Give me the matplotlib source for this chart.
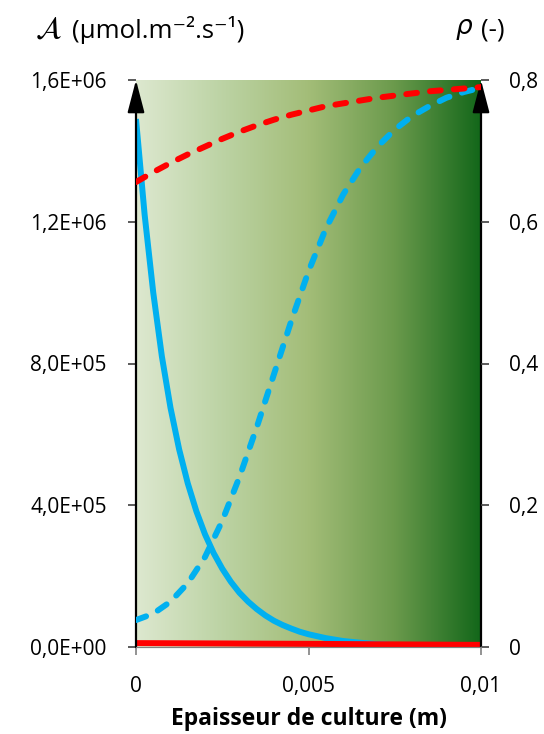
import numpy as np
import matplotlib
matplotlib.use('Agg')
from matplotlib import pyplot as plt
from matplotlib.colors import LinearSegmentedColormap

plt.rcParams['font.family'] = ['Open Sans', 'DejaVu Sans']
plt.rcParams['mathtext.fontset'] = 'dejavusans'

# culture depth (m) and absorbed light (left axis)
depth = [0, 0.00025, 0.0005, 0.00075, 0.001, 0.00125, 0.0015, 0.00175, 0.002, 0.00225,
         0.0025, 0.00275, 0.003, 0.00325, 0.0035, 0.00375, 0.004, 0.00425, 0.0045, 0.00475,
         0.005, 0.0055, 0.006, 0.0065, 0.007, 0.0075, 0.008, 0.0085, 0.009, 0.0095, 0.01]
absorbed = [1.49, 1.22, 1.00, 0.82, 0.675, 0.558, 0.462, 0.383, 0.318, 0.265,
            0.221, 0.184, 0.153, 0.128, 0.107, 0.089, 0.074, 0.062, 0.052, 0.043,
            0.036, 0.025, 0.017, 0.012, 0.008, 0.0055, 0.0038, 0.0026, 0.0018, 0.0012, 0.0008]
absorbed_low = [0.011, 0.0109, 0.0108, 0.0107, 0.0106, 0.0105, 0.0104, 0.0103, 0.0102, 0.0101,
                0.0100, 0.0099, 0.0097, 0.0096, 0.0095, 0.0094, 0.0093, 0.0092, 0.0091, 0.0090,
                0.0089, 0.0086, 0.0083, 0.0080, 0.0077, 0.0074, 0.0071, 0.0068, 0.0065, 0.0062, 0.006]

# yield (right axis)
depth2 = [0, 0.0005, 0.001, 0.0015, 0.002, 0.0025, 0.003, 0.0035, 0.004, 0.0045, 0.005,
          0.0055, 0.006, 0.0065, 0.007, 0.0075, 0.008, 0.0085, 0.009, 0.0095, 0.01]
rho_blue = [0.038, 0.047, 0.064, 0.090, 0.127, 0.178, 0.240, 0.310, 0.385, 0.460, 0.530,
            0.590, 0.638, 0.676, 0.706, 0.730, 0.749, 0.763, 0.775, 0.783, 0.789]
rho_red = [0.656, 0.670, 0.683, 0.695, 0.706, 0.717, 0.727, 0.736, 0.744, 0.751, 0.757,
           0.763, 0.767, 0.771, 0.775, 0.778, 0.781, 0.784, 0.786, 0.788, 0.790]

left_ticks = [0, 4e5, 8e5, 1.2e6, 1.6e6]
left_labels = ['0,0E+00', '4,0E+05', '8,0E+05', '1,2E+06', '1,6E+06']
right_ticks = [0, 0.2, 0.4, 0.6, 0.8]
right_labels = ['0', '0,2', '0,4', '0,6', '0,8']
x_ticks = [0, 0.005, 0.01]
x_labels = ['0', '0,005', '0,01']

blue = '#00b0f0'
red = '#ff0000'

fig = plt.figure(figsize=(5.44, 7.34), dpi=100)
ax = fig.add_axes([136 / 544, 1 - 647 / 734, 345 / 544, 567 / 734])
ax2 = ax.twinx()

# green gradient background
cmap = LinearSegmentedColormap.from_list('grn', ['#dde8cf', '#bcd3a4', '#a3bd78', '#6b9a4c', '#13671a'])
grad = np.linspace(0, 1, 256).reshape(1, -1)
ax.imshow(grad, cmap=cmap, aspect='auto', extent=[0, 0.01, 0, 1.6e6], zorder=0)

ax.plot(depth, np.array(absorbed) * 1e6, color=blue, lw=4.3, solid_capstyle='butt', zorder=3)
ax.plot(depth, np.array(absorbed_low) * 1e6, color=red, lw=4.3, solid_capstyle='butt', zorder=4)

ax2.plot(depth2, rho_blue, color=blue, lw=4.3, dashes=(1.8, 2.2), dash_capstyle='round', zorder=3)
ax2.plot(depth2, rho_red, color=red, lw=4.3, dashes=(1.8, 2.2), dash_capstyle='round', zorder=4)

ax.set_xlim(0, 0.01)
ax.set_ylim(0, 1.6e6)
ax2.set_ylim(0, 0.8)

ax.set_xticks(x_ticks)
ax.set_xticklabels(x_labels)
ax.set_yticks(left_ticks)
ax.set_yticklabels(left_labels)
ax2.set_yticks(right_ticks)
ax2.set_yticklabels(right_labels)

for a in (ax, ax2):
    for s in ('top', 'left', 'right'):
        a.spines[s].set_visible(False)
    a.spines['bottom'].set_color('#808080')
    a.tick_params(labelsize=15, length=6, width=1.2, color='#404040')
ax.tick_params(axis='y', pad=15)
ax.tick_params(axis='x', pad=15, color='#808080')
ax2.tick_params(axis='y', pad=14)

ax.set_xlabel('Epaisseur de culture (m)', fontsize=16.5, fontweight='bold', labelpad=7)

# vertical arrows at both sides
for xa in (0, 0.01):
    ax.annotate('', xy=(xa, 1.6e6), xytext=(xa, 0), annotation_clip=False,
                arrowprops=dict(arrowstyle='-|>,head_length=1.0,head_width=0.26', color='black',
                                lw=1.6, mutation_scale=20, shrinkA=0, shrinkB=0), zorder=5)

fig.text(35 / 544, 1 - 30 / 734, r'$\mathcal{A}$', fontsize=22, va='center', ha='left')
fig.text(72 / 544, 1 - 30 / 734, '(µmol.m⁻².s⁻¹)', fontsize=18.5, va='center', ha='left')
fig.text(455 / 544, 1 - 30 / 734, r'$\rho$', fontsize=19, va='center', ha='left')
fig.text(481 / 544, 1 - 30 / 734, '(-)', fontsize=18.5, va='center', ha='left')

fig.savefig('out.png', dpi=100)
